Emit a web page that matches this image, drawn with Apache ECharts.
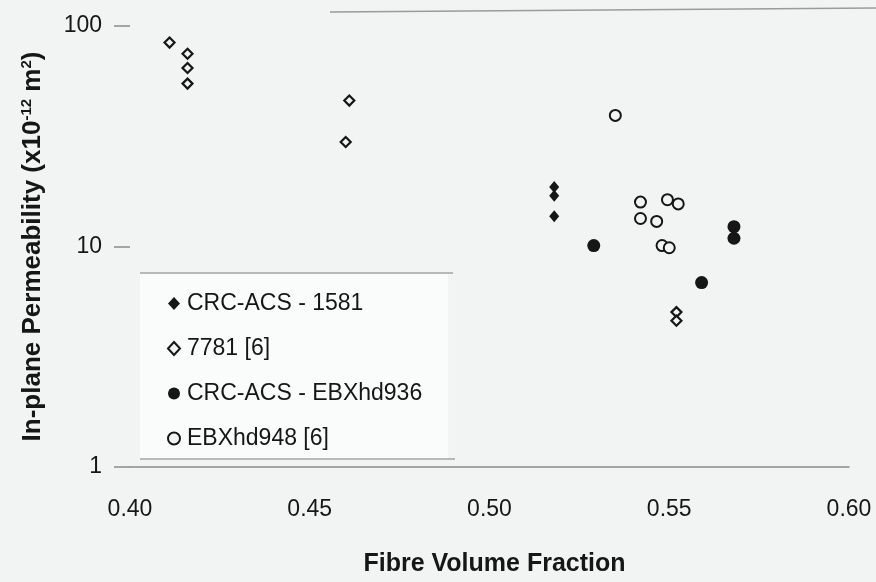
<!DOCTYPE html>
<html>
<head>
<meta charset="utf-8">
<script src="https://cdn.jsdelivr.net/npm/echarts@6/dist/echarts.min.js"></script>
<style>
html,body{margin:0;padding:0;background:#f2f4f4;}
#chart{width:876px;height:582px;}
</style>
</head>
<body>
<div id="chart"></div>
<script>
// ---- data ----
const seriesNames = ['CRC-ACS - 1581', '7781 [6]', 'CRC-ACS - EBXhd936', 'EBXhd948 [6]'];
const data1581 = [[0.518, 18.6], [0.518, 17.0], [0.518, 13.7]];
const data7781 = [[0.411, 84.1], [0.416, 74.8], [0.416, 64.5], [0.416, 54.8], [0.461, 45.9], [0.460, 29.8], [0.552, 5.04], [0.552, 4.61]];
const dataEBX936 = [[0.529, 10.1], [0.559, 6.86], [0.568, 12.3], [0.568, 10.9]];
const dataEBX948 = [[0.535, 39.3], [0.542, 15.9], [0.542, 13.4], [0.5465, 13.0], [0.5495, 16.3], [0.5525, 15.6], [0.548, 10.1], [0.550, 9.87]];
const xTickLabels = ['0.40', '0.45', '0.50', '0.55', '0.60'];
const yTickLabels = ['1', '10', '100'];

const INK = '#161616';
const BG = '#f2f4f4';
const FONT = '"Liberation Sans", Arial, sans-serif';

const chart = echarts.init(document.getElementById('chart'));
chart.setOption({
  backgroundColor: BG,
  animation: false,
  textStyle: { fontFamily: FONT, color: INK },
  grid: { left: 130, right: 27, top: 26, bottom: 112 },
  xAxis: {
    type: 'value', min: 0.4, max: 0.6, interval: 0.05,
    name: 'Fibre Volume Fraction',
    nameLocation: 'middle', nameGap: 85,
    nameTextStyle: { fontSize: 25, fontWeight: 'bold', color: INK, fontFamily: FONT, padding: [0, 0, 0, 10] },
    axisLine: { show: true, lineStyle: { color: '#8a8a8a', width: 1.5 } },
    axisTick: { show: false },
    splitLine: { show: false },
    axisLabel: {
      margin: 31, fontSize: 23, color: INK, fontFamily: FONT,
      formatter: function (v) {
        const i = Math.round((v - 0.4) / 0.05);
        return xTickLabels[i] !== undefined ? xTickLabels[i] : v.toFixed(2);
      }
    }
  },
  yAxis: {
    type: 'log', logBase: 10, min: 1, max: 100,
    name: '{a|In-plane Permeability (x10}{s|-12}{a| m}{s|2}{a|)}',
    nameLocation: 'middle', nameGap: 83, nameRotate: 90,
    nameTextStyle: {
      color: INK, fontFamily: FONT,
      rich: {
        a: { fontSize: 26, fontWeight: 'bold', color: INK, fontFamily: FONT, lineHeight: 28 },
        s: { fontSize: 15, fontWeight: 'bold', color: INK, fontFamily: FONT, verticalAlign: 'top', lineHeight: 28 }
      }
    },
    axisLine: { show: false },
    axisTick: { show: true, inside: false, length: 16, lineStyle: { color: '#8a8a8a', width: 1.5 } },
    minorTick: { show: false },
    splitLine: { show: false },
    axisLabel: {
      margin: 28, fontSize: 23, color: INK, fontFamily: FONT,
      formatter: function (v) {
        const i = Math.round(Math.log10(v));
        return yTickLabels[i] !== undefined ? yTickLabels[i] : String(v);
      }
    }
  },
  legend: {
    orient: 'vertical',
    left: 140, top: 273,
    padding: [19, 26, 10, 27],
    itemGap: 22,
    itemWidth: 12, itemHeight: 13,
    backgroundColor: '#fafbfb',
    textStyle: { fontSize: 23, color: INK, fontFamily: FONT, padding: [0, 0, 0, 2] },
    data: seriesNames
  },
  graphic: [
    { type: 'line', shape: { x1: 140, y1: 273, x2: 453, y2: 273 }, style: { stroke: '#7a7a7a', lineWidth: 1 }, z: 100 },
    { type: 'line', shape: { x1: 140, y1: 459, x2: 455, y2: 459 }, style: { stroke: '#7a7a7a', lineWidth: 1 }, z: 100 },
    { type: 'line', shape: { x1: 330, y1: 12, x2: 876, y2: 8 }, style: { stroke: '#9a9c9c', lineWidth: 1.5 }, z: 0 }
  ],
  series: [
    {
      name: seriesNames[0], type: 'scatter', data: data1581,
      symbol: 'diamond', symbolSize: [10, 12],
      itemStyle: { color: INK, opacity: 1 }, z: 3
    },
    {
      name: seriesNames[1], type: 'scatter', data: data7781,
      symbol: 'diamond', symbolSize: 10,
      itemStyle: { color: BG, borderColor: INK, borderWidth: 2.2, opacity: 1 }, z: 2
    },
    {
      name: seriesNames[2], type: 'scatter', data: dataEBX936,
      symbol: 'circle', symbolSize: 13,
      itemStyle: { color: INK, opacity: 1 }, z: 3
    },
    {
      name: seriesNames[3], type: 'scatter', data: dataEBX948,
      symbol: 'circle', symbolSize: 11,
      itemStyle: { color: BG, borderColor: INK, borderWidth: 2, opacity: 1 }, z: 2
    }
  ]
});
</script>
</body>
</html>
